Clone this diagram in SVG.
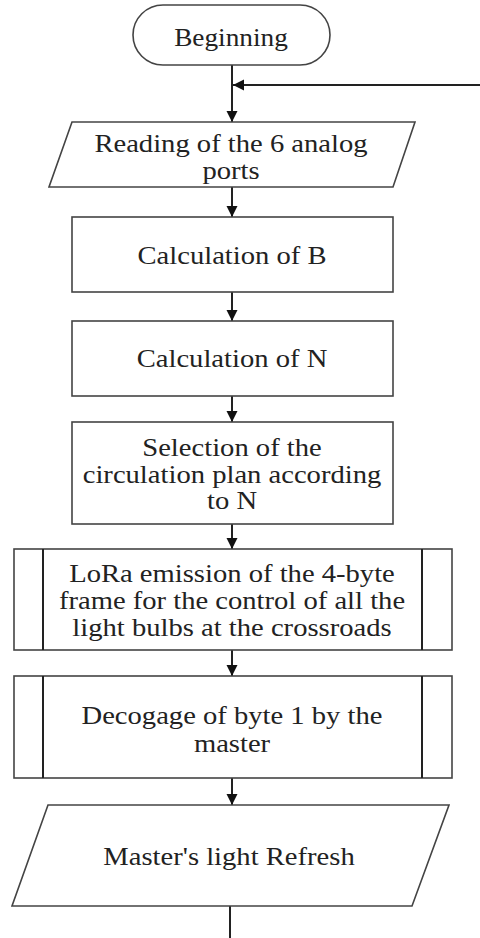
<svg xmlns="http://www.w3.org/2000/svg" width="480" height="938" viewBox="0 0 480 938">
<defs>
<style>
.box{fill:#fff;stroke:#444;stroke-width:1.6}
.sub{fill:none;stroke:#222;stroke-width:2}
.con{fill:none;stroke:#222;stroke-width:2}
.t{font-family:'Liberation Serif','DejaVu Serif',serif;font-size:26px;fill:#222;text-anchor:middle}
</style>
<marker id="ah" markerUnits="userSpaceOnUse" markerWidth="12" markerHeight="12" refX="11" refY="6" orient="auto">
<path d="M0,0.5 L11,6 L0,11.5 Z" fill="#111"/>
</marker>
</defs>
<rect width="480" height="938" fill="#fff"/>
<g id="connectors">
<line class="con" x1="232" y1="65" x2="232" y2="122" marker-end="url(#ah)"/>
<line class="con" x1="480" y1="85" x2="233" y2="85" stroke-width="1.6" marker-end="url(#ah)"/>
<line class="con" x1="232" y1="187" x2="232" y2="217" marker-end="url(#ah)"/>
<line class="con" x1="232" y1="292" x2="232" y2="321" marker-end="url(#ah)"/>
<line class="con" x1="232" y1="396" x2="232" y2="422" marker-end="url(#ah)"/>
<line class="con" x1="232" y1="524" x2="232" y2="549" marker-end="url(#ah)"/>
<line class="con" x1="232" y1="650" x2="232" y2="676" marker-end="url(#ah)"/>
<line class="con" x1="232" y1="778" x2="232" y2="805" marker-end="url(#ah)"/>
<line class="con" x1="230" y1="906" x2="230" y2="938"/>
</g>
<g id="start">
<rect class="box" x="133" y="5" width="197" height="60" rx="30" ry="30"/>
<g transform="translate(231,0) scale(1.05,1)"><text class="t" x="0" y="46" font-family="Liberation Serif">Beginning</text></g>
</g>
<g id="read">
<polygon class="box" points="72,122 415,122 393,187 49,187"/>
<g transform="translate(231,0) scale(1.1,1)"><text class="t" x="0" y="152" font-family="Liberation Serif">Reading of the 6 analog</text><text class="t" x="0" y="179" font-family="Liberation Serif">ports</text></g>
</g>
<g id="calcB">
<rect class="box" x="72" y="217" width="321" height="75"/>
<g transform="translate(232,0) scale(1.1,1)"><text class="t" x="0" y="264" font-family="Liberation Serif">Calculation of B</text></g>
</g>
<g id="calcN">
<rect class="box" x="72" y="321" width="321" height="75"/>
<g transform="translate(232,0) scale(1.1,1)"><text class="t" x="0" y="367" font-family="Liberation Serif">Calculation of N</text></g>
</g>
<g id="select">
<rect class="box" x="72" y="422" width="321" height="102"/>
<g transform="translate(232,0) scale(1.1,1)"><text class="t" x="0" y="456" font-family="Liberation Serif">Selection of the</text><text class="t" x="0" y="483" font-family="Liberation Serif">circulation plan according</text><text class="t" x="0" y="509" font-family="Liberation Serif">to N</text></g>
</g>
<g id="lora">
<rect class="box" x="14" y="549" width="438" height="101"/>
<line class="sub" x1="43" y1="549" x2="43" y2="650"/>
<line class="sub" x1="422" y1="549" x2="422" y2="650"/>
<g transform="translate(232,0) scale(1.1,1)"><text class="t" x="0" y="582" font-family="Liberation Serif">LoRa emission of the 4-byte</text><text class="t" x="0" y="609" font-family="Liberation Serif">frame for the control of all the</text><text class="t" x="0" y="636" font-family="Liberation Serif">light bulbs at the crossroads</text></g>
</g>
<g id="decode">
<rect class="box" x="14" y="676" width="438" height="102"/>
<line class="sub" x1="43" y1="676" x2="43" y2="778"/>
<line class="sub" x1="422" y1="676" x2="422" y2="778"/>
<g transform="translate(232,0) scale(1.1,1)"><text class="t" x="0" y="724" font-family="Liberation Serif">Decogage of byte 1 by the</text><text class="t" x="0" y="752" font-family="Liberation Serif">master</text></g>
</g>
<g id="refresh">
<polygon class="box" points="48,805 449,805 412,906 12,906"/>
<g transform="translate(229,0) scale(1.1,1)"><text class="t" x="0" y="865" font-family="Liberation Serif">Master's light Refresh</text></g>
</g>
</svg>
